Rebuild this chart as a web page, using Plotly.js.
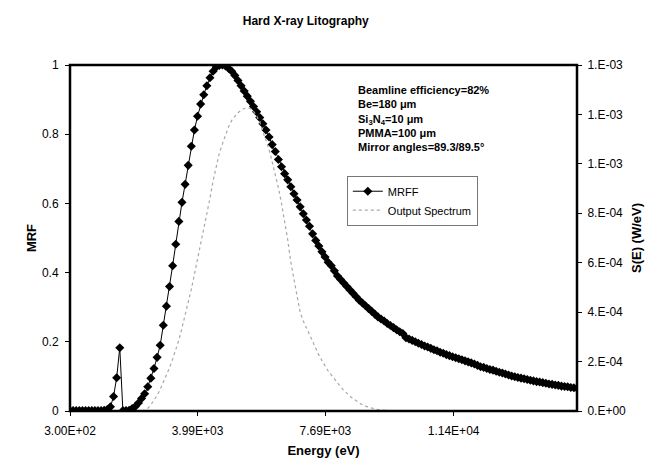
<!DOCTYPE html>
<html>
<head>
<meta charset="utf-8">
<script src="https://cdn.plot.ly/plotly-3.0.1.min.js"></script>
<style>html,body{margin:0;padding:0;background:#fff;}#chart{width:652px;height:472px;}</style>
</head>
<body>
<div id="chart"></div>
<script>
// Photon energy (eV)
const energy = [
  300,390,480,570,660,750,840,930,1020,1110,
  1200,1290,1380,1470,1560,1650,1740,1830,1920,2010,
  2100,2190,2280,2370,2460,2550,2640,2730,2820,2910,
  3000,3090,3180,3270,3360,3450,3540,3630,3720,3810,
  3900,3990,4080,4170,4260,4350,4440,4530,4620,4710,
  4800,4890,4980,5070,5160,5250,5340,5430,5520,5610,
  5700,5790,5880,5970,6060,6150,6240,6330,6420,6510,
  6600,6690,6780,6870,6960,7050,7140,7230,7320,7410,
  7500,7590,7680,7770,7860,7950,8040,8130,8220,8310,
  8400,8490,8580,8670,8760,8850,8940,9030,9120,9210,
  9300,9390,9480,9570,9660,9750,9840,9930,10020,10110,
  10200,10290,10380,10470,10560,10650,10740,10830,10920,11010,
  11100,11190,11280,11370,11460,11550,11640,11730,11820,11910,
  12000,12090,12180,12270,12360,12450,12540,12630,12720,12810,
  12900,12990,13080,13170,13260,13350,13440,13530,13620,13710,
  13800,13890,13980,14070,14160,14250,14340,14430,14520,14610,
  14700,14790,14880,14970
];

// MRFF (left axis)
const mrff = [
  0.001,0.001,0.001,0.001,0.001,0.001,0.001,0.001,0.001,0.001,
  0.001,0.002,0.004,0.012,0.042,0.096,0.183,0.001,0.001,0.002,
  0.007,0.013,0.023,0.036,0.05,0.07,0.095,0.123,0.155,0.19,
  0.248,0.303,0.36,0.42,0.482,0.548,0.603,0.655,0.71,0.765,
  0.812,0.852,0.887,0.914,0.94,0.963,0.982,0.994,0.999,1.0,
  0.997,0.99,0.982,0.97,0.955,0.94,0.925,0.91,0.895,0.88,
  0.865,0.848,0.83,0.812,0.792,0.77,0.75,0.727,0.706,0.686,
  0.668,0.648,0.628,0.61,0.59,0.57,0.552,0.534,0.512,0.493,
  0.477,0.46,0.445,0.43,0.42,0.405,0.39,0.38,0.37,0.36,
  0.35,0.34,0.33,0.32,0.312,0.304,0.296,0.288,0.28,0.272,
  0.266,0.26,0.253,0.247,0.241,0.235,0.229,0.224,0.212,0.208,
  0.204,0.2,0.196,0.192,0.188,0.185,0.181,0.177,0.174,0.17,
  0.167,0.163,0.16,0.157,0.154,0.151,0.148,0.145,0.142,0.139,
  0.136,0.132,0.128,0.126,0.123,0.12,0.118,0.115,0.112,0.11,
  0.107,0.104,0.101,0.099,0.097,0.095,0.093,0.091,0.089,0.087,
  0.085,0.084,0.082,0.08,0.078,0.077,0.075,0.074,0.072,0.071,
  0.07,0.068,0.067,0.066
];

// Output spectrum S(E) in W/eV (right axis)
const spectrum = [
  0,0,0,0,0,0,0,0,0,0,
  0,0,0,0,0,0,0,0,0,0,
  0,0,0,0,0.04e-4,0.11e-4,0.25e-4,0.42e-4,0.63e-4,0.87e-4,
  1.15e-4,1.43e-4,1.75e-4,2.10e-4,2.45e-4,2.87e-4,3.36e-4,3.85e-4,4.37e-4,4.93e-4,
  5.53e-4,6.13e-4,6.72e-4,7.31e-4,7.92e-4,8.61e-4,9.31e-4,9.94e-4,10.43e-4,10.81e-4,
  11.20e-4,11.51e-4,11.76e-4,11.94e-4,12.07e-4,12.17e-4,12.24e-4,12.26e-4,12.24e-4,12.12e-4,
  11.94e-4,11.69e-4,11.34e-4,10.99e-4,10.57e-4,10.08e-4,9.59e-4,9.03e-4,8.40e-4,7.70e-4,
  6.93e-4,6.02e-4,5.32e-4,4.55e-4,3.99e-4,3.64e-4,3.36e-4,3.08e-4,2.80e-4,2.52e-4,
  2.27e-4,2.04e-4,1.82e-4,1.62e-4,1.46e-4,1.29e-4,1.13e-4,0.98e-4,0.84e-4,0.71e-4,
  0.60e-4,0.50e-4,0.41e-4,0.32e-4,0.25e-4,0.20e-4,0.15e-4,0.11e-4,0.08e-4,0.06e-4,
  0.04e-4,0.03e-4,0.03e-4,0.01e-4,0.01e-4,0.01e-4,0,0,0,0,
  0,0,0,0,0,0,0,0,0,0,
  0,0,0,0,0,0,0,0,0,0,
  0,0,0,0,0,0,0,0,0,0,
  0,0,0,0,0,0,0,0,0,0,
  0,0,0,0,0,0,0,0,0,0,
  0,0,0,0
];

// Tick labels
const xTickVals = [300, 3990, 7690, 11400];
const xTickText = ["3.00E+02", "3.99E+03", "7.69E+03", "1.14E+04"];
const yTickVals = [0, 0.2, 0.4, 0.6, 0.8, 1];
const yTickText = ["0", "0.2", "0.4", "0.6", "0.8", "1"];
const y2TickVals = [0, 2e-4, 4e-4, 6e-4, 8e-4, 1e-3, 1.2e-3, 1.4e-3];
const y2TickText = ["0.E+00", "2.E-04", "4.E-04", "6.E-04", "8.E-04", "1.E-03", "1.E-03", "1.E-03"];

const FONT = "Liberation Sans, Arial, sans-serif";

const traces = [
  {
    x: energy, y: mrff, name: "MRFF", type: "scatter", mode: "lines+markers",
    line: {color: "#000", width: 1},
    marker: {symbol: "diamond", size: 7, color: "#000"},
    yaxis: "y"
  },
  {
    x: energy, y: spectrum, name: "Output Spectrum", type: "scatter", mode: "lines",
    line: {color: "#a8a8a8", width: 1.2, dash: "dot"},
    yaxis: "y2"
  }
];

const layout = {
  width: 652, height: 472,
  paper_bgcolor: "#fff", plot_bgcolor: "#fff",
  margin: {l: 70, r: 75, t: 65, b: 61},
  font: {family: FONT, color: "#000", size: 12},
  showlegend: true,
  title: {
    text: "<b>Hard X-ray Litography</b>",
    font: {family: FONT, size: 12, color: "#000"},
    x: 0.469, xref: "container", xanchor: "center",
    y: 0.955, yref: "container", yanchor: "middle"
  },
  xaxis: {
    range: [300, 14970],
    tickmode: "array", tickvals: xTickVals, ticktext: xTickText,
    ticks: "outside", ticklen: 4, tickcolor: "#000",
    ticklabelstandoff: 5,
    showgrid: false, zeroline: false, showline: false,
    tickfont: {family: FONT, size: 12},
    title: {text: "<b>Energy (eV)</b>", font: {family: FONT, size: 13}, standoff: 8}
  },
  yaxis: {
    range: [0, 1],
    tickmode: "array", tickvals: yTickVals, ticktext: yTickText,
    ticks: "outside", ticklen: 4, tickcolor: "#000",
    ticklabelstandoff: 4,
    showgrid: false, zeroline: false, showline: false,
    tickfont: {family: FONT, size: 12},
    title: {text: "<b>MRF</b>", font: {family: FONT, size: 13}, standoff: 2}
  },
  yaxis2: {
    range: [0, 0.0014], overlaying: "y", side: "right",
    tickmode: "array", tickvals: y2TickVals, ticktext: y2TickText,
    ticks: "outside", ticklen: 4, tickcolor: "#000",
    ticklabelstandoff: 3,
    showgrid: false, zeroline: false, showline: false,
    tickfont: {family: FONT, size: 12},
    title: {text: "<b>S(E) (W/eV)</b>", font: {family: FONT, size: 13}, standoff: 6}
  },
  shapes: [
    {type: "rect", xref: "paper", yref: "paper", x0: 0, x1: 1, y0: 0, y1: 1,
     line: {color: "#000", width: 2.5}, layer: "above"}
  ],
  legend: {
    x: 0.546, y: 0.68, xanchor: "left", yanchor: "top",
    bgcolor: "#fff", bordercolor: "#777", borderwidth: 1,
    font: {family: FONT, size: 11, color: "#000"},
    itemwidth: 30, tracegroupgap: 0
  },
  annotations: [
    {
      xref: "paper", yref: "paper", x: 0.564, y: 0.95, xanchor: "left", yanchor: "top",
      align: "left", showarrow: false,
      font: {family: FONT, size: 11, color: "#000"},
      text: "<b>Beamline efficiency=82%</b><br><b>Be=180 μm</b><br><b>Si<sub>3</sub>N<sub>4</sub>=10 μm</b><br><b>PMMA=100 μm</b><br><b>Mirror angles=89.3/89.5°</b>"
    }
  ]
};

Plotly.newPlot("chart", traces, layout, {displayModeBar: false, staticPlot: true});
</script>
</body>
</html>
